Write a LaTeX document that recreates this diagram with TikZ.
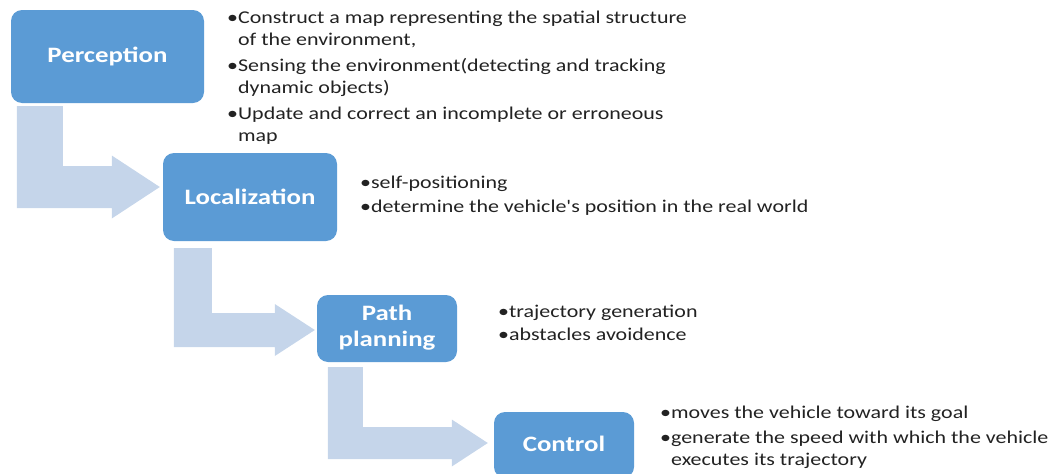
\documentclass[tikz,border=0pt]{standalone}
\usepackage{fontspec}
\setmainfont{Carlito}
% plain family (no TeX ligature mapping) keeps straight apostrophes
\newfontfamily\notefont{Carlito}
\usetikzlibrary{calc}

\definecolor{boxblue}{HTML}{5B9BD5}
\definecolor{flowblue}{HTML}{C5D5EA}
\definecolor{bodytext}{HTML}{222222}

\newcommand\bul{•}
\newcommand\ind{\phantom{•}}
% text is set a little wider than the font's natural width
\newcommand\wide[1]{\scalebox{1.22}[1]{#1}}
\newcommand\lines[1]{\wide{\begin{tabular}[t]{@{}l@{}}#1\end{tabular}}}

% bent block arrow: #1 source box, #2 tip coordinate, #3 stem inset, #4 stem width,
% #5 gap below source, #6 band half width, #7 head half width, #8 head length
\newcommand\bentarrow[8]{%
  \coordinate (s) at ($(#1.south west)+(#3,#5)$);
  \coordinate (bu) at ($(#2)+(-#8,-#6)$);
  \coordinate (bd) at ($(#2)+(-#8,#6)$);
  \fill[flow] (s) -- ++(#4,0) coordinate (sr) -- (sr |- bu) -- (bu)
    -- ($(#2)+(-#8,-#7)$) -- (#2) -- ($(#2)+(-#8,#7)$) -- (bd)
    -- (s |- bd) -- cycle;
}

\tikzset{
  stage/.style={fill=boxblue, rounded corners=11pt, text=white,
    font=\fontsize{22}{26}\selectfont\bfseries, align=center, inner sep=0pt},
  flow/.style={fill=flowblue},
  notes/.style={anchor=base west, inner sep=0pt, text=bodytext,
    font=\notefont\fontsize{18}{22}\selectfont},
}

\begin{document}
\begin{tikzpicture}[x=1pt, y=-1pt]
  \useasboundingbox (0,0) rectangle (1050,474);
  \clip (0,0) rectangle (1050,474);

  % stage boxes
  \node[stage, minimum width=193pt, minimum height=93pt] (per) at (107.5,56.5) {\wide{Perception}};
  \node[stage, minimum width=174pt, minimum height=88pt] (loc) at (250,197) {\wide{Localization}};
  \node[stage, minimum width=140pt, minimum height=67pt] (pp)  at (387,328.5)
    {\wide{\begin{tabular}{@{}c@{}}Path\\planning\end{tabular}}};
  \node[stage, minimum width=140pt, minimum height=66pt] (ctl) at (564,445) {\raisebox{2pt}{\wide{Control}}};

  % arrow tips
  \coordinate (t1) at ($(loc.west)+(-3,-10)$);
  \coordinate (t2) at ($(pp.west)+(-2,1.5)$);
  \coordinate (t3) at ($(ctl.west)+(-6,-2)$);

  % bent arrows between stages
  \bentarrow{per}{t1}{6}{46}{3}{21}{31.5}{48}
  \bentarrow{loc}{t2}{11}{38}{7}{17}{26}{40}
  \bentarrow{pp}{t3}{11}{35}{5}{16}{23.5}{36}

  % notes beside each stage
  \node[notes] (nper) at (227,23) {\lines{%
    \bul Construct a map representing the spatial structure\\
    \ind of the environment,\\[4pt]
    \bul Sensing the environment(detecting and tracking\\
    \ind dynamic objects)\\[4pt]
    \bul Update and correct an incomplete or erroneous\\
    \ind map}};
  \node[notes] (nloc) at (360,188) {\lines{%
    \bul self-positioning\\[2pt]
    \bul determine the vehicle's position in the real world}};
  \node[notes] (npp) at (498,317) {\lines{%
    \bul trajectory generation\\[1pt]
    \bul abstacles avoidence}};
  \node[notes] (nctl) at (660,418) {\lines{%
    \bul moves the vehicle toward its goal\\[3pt]
    \bul generate the speed with which the vehicle\\
    \ind executes its trajectory}};
\end{tikzpicture}
\end{document}
